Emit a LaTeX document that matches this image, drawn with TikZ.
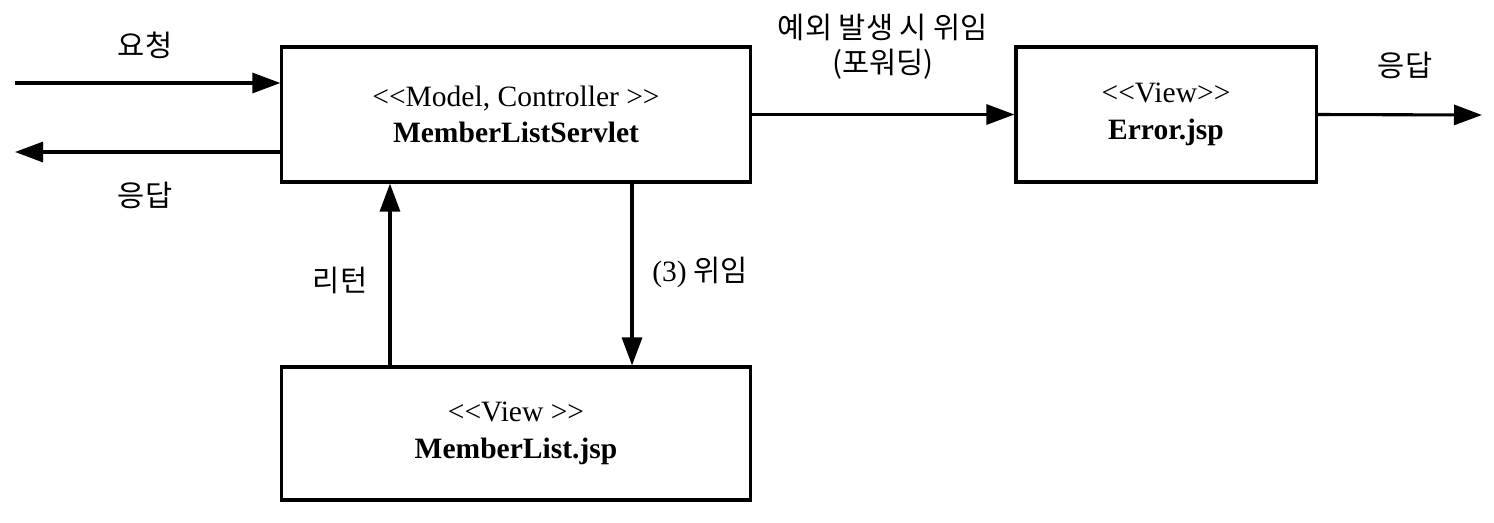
\documentclass[tikz,border=0pt]{standalone}
\usepackage{fontspec}
\setmainfont{Liberation Serif}[Ligatures=TeXOff]
\newfontfamily\kr{Noto Sans CJK KR}
\usetikzlibrary{arrows.meta}

\begin{document}
\begin{tikzpicture}[
                x=0.025cm,y=-0.025cm,
                every node/.style={font=\fontsize{21}{26}\selectfont},
                box/.style={draw,line width=2.2pt,rectangle,minimum height=3.375cm,align=center,inner sep=0pt},
                connection/.style={-{Triangle[length=0.7cm,width=0.5cm]},line width=2.2pt},
                label/.style={font=\fontsize{21}{25}\selectfont\kr,align=center},
            ]
            \useasboundingbox (0,0) rectangle (1494,522);

            \node[box,minimum width=11.7cm] (servlet) at (516,114.5) {<<Model, Controller >>\\\textbf{MemberListServlet}};
            \node[box,minimum width=7.5cm] (error) at (1166,114.5) {<<View>>\\\textbf{Error.jsp}};
            \node[box,minimum width=11.7cm,minimum height=3.325cm] (list) at (516,433.5) {<<View >>\\\textbf{MemberList.jsp}};

            \coordinate (reqin) at (15,83);
            \coordinate (resout) at (15,152);
            \coordinate (resend) at (1482,115);

            \draw[connection] (reqin) -- (reqin -| servlet.west);
            \draw[connection] (resout -| servlet.west) -- (resout);
            \draw[connection] (servlet.east) -- (error.west);
            \draw[connection] (error.east) -- (resend);
            \draw[connection] ([xshift=2.9cm]servlet.south) -- ([xshift=2.9cm]list.north);
            \draw[connection] ([xshift=-3.15cm]list.north) -- ([xshift=-3.15cm]servlet.south);

            \node[label] (reqlabel) at (145,45) {요청};
            \node[label] (reslabel) at (145,195) {응답};
            \node[label] (retlabel) at (340,280) {리턴};
            \node[label] (fwdlabel) at (700,272) {{\rmfamily (3)} 위임};
            \node[label] (exclabel) at (883,47) {예외 발생 시 위임\\(포워딩)};
            \node[label] (endlabel) at (1405,65) {응답};
        \end{tikzpicture}
\end{document}
